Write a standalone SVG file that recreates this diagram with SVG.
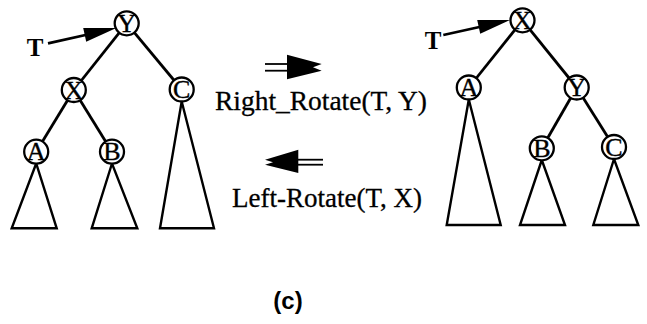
<svg xmlns="http://www.w3.org/2000/svg" width="647" height="324" viewBox="0 0 647 324">
<style>
.n{fill:#fff;stroke:#000;stroke-width:2.3}
.lt{font-family:"Liberation Serif","Times New Roman",serif;font-size:26px;fill:#000;stroke:#000;stroke-width:0.4;text-anchor:middle}
.tri{fill:#fff;stroke:#000;stroke-width:2.4;stroke-linejoin:miter}
.e{stroke:#000;stroke-width:2.8;fill:none}
.tl{font-family:"Liberation Serif","Times New Roman",serif;font-size:25px;font-weight:bold;fill:#000;text-anchor:middle}
.op{font-family:"Liberation Serif","Times New Roman",serif;font-size:27px;fill:#000;stroke:#000;stroke-width:0.3}
.dl{stroke:#000;stroke-width:1.8}
</style>
<rect width="647" height="324" fill="#fff"/>
<g id="connectors">
  <line class="e" x1="126.7" y1="23.3" x2="73.8" y2="90"/>
  <line class="e" x1="126.7" y1="23.3" x2="181.7" y2="89.5"/>
  <line class="e" x1="73.8" y1="90" x2="36.2" y2="151.7"/>
  <line class="e" x1="73.8" y1="90" x2="112" y2="151.7"/>
  <line class="e" x1="522.5" y1="20.3" x2="468.8" y2="87.5"/>
  <line class="e" x1="522.5" y1="20.3" x2="576.7" y2="87.5"/>
  <line class="e" x1="576.7" y1="87.5" x2="541.8" y2="148.3"/>
  <line class="e" x1="576.7" y1="87.5" x2="614" y2="147"/>
  <line class="e" x1="48" y1="43.3" x2="90" y2="34"/>
  <polygon points="116.3,28 86.2,41.7 83.2,28.1" fill="#000"/>
  <line class="e" x1="443.3" y1="35" x2="484" y2="26"/>
  <polygon points="510,20 480.2,33.7 477.2,20.1" fill="#000"/>
</g>
<g id="subtrees">
  <polygon class="tri" points="36.2,163.5 11.7,228.3 56.7,228.3"/>
  <polygon class="tri" points="112,163.5 91.7,228.3 137.3,228.3"/>
  <polygon class="tri" points="181.7,101.5 160,228.3 214,228.3"/>
  <polygon class="tri" points="468.8,99.5 446.7,225 500.7,225"/>
  <polygon class="tri" points="541.8,160 520,225 565,225"/>
  <polygon class="tri" points="614,159 593.3,225 638.3,225"/>
</g>
<g id="L-Y"><circle class="n" cx="126.7" cy="23.3" r="12"/><text class="lt" x="126.7" y="31.9">Y</text></g>
<g id="L-X"><circle class="n" cx="73.8" cy="90" r="12"/><text class="lt" x="73.8" y="98.6">X</text></g>
<g id="L-C"><circle class="n" cx="181.7" cy="89.5" r="12"/><text class="lt" x="181.7" y="98.1">C</text></g>
<g id="L-A"><circle class="n" cx="36.2" cy="151.7" r="12"/><text class="lt" x="36.2" y="160.3">A</text></g>
<g id="L-B"><circle class="n" cx="112" cy="151.7" r="12"/><text class="lt" x="112" y="160.3">B</text></g>
<g id="R-X"><circle class="n" cx="522.5" cy="20.3" r="12"/><text class="lt" x="522.5" y="28.9">X</text></g>
<g id="R-A"><circle class="n" cx="468.8" cy="87.5" r="12"/><text class="lt" x="468.8" y="96.1">A</text></g>
<g id="R-Y"><circle class="n" cx="576.7" cy="87.5" r="12"/><text class="lt" x="576.7" y="96.1">Y</text></g>
<g id="R-B"><circle class="n" cx="541.8" cy="148.3" r="12"/><text class="lt" x="541.8" y="156.9">B</text></g>
<g id="R-C"><circle class="n" cx="614" cy="147" r="12"/><text class="lt" x="614" y="155.6">C</text></g>
<g id="T-left"><text class="tl" x="35" y="55.5">T</text></g>
<g id="T-right"><text class="tl" x="433" y="48.5">T</text></g>
<g id="right-rotate">
  <line class="dl" x1="265" y1="64" x2="290" y2="64"/>
  <line class="dl" x1="265" y1="70.7" x2="290" y2="70.7"/>
  <polygon points="287,54.7 321.7,64 313,67.3 321.7,70.7 287,79.3" fill="#000"/>
  <text class="op" x="215" y="110" textLength="212" lengthAdjust="spacingAndGlyphs">Right_Rotate(T, Y)</text>
</g>
<g id="left-rotate">
  <line class="dl" x1="296" y1="159.7" x2="323" y2="159.7"/>
  <line class="dl" x1="296" y1="164.7" x2="323" y2="164.7"/>
  <polygon points="298.3,149.7 265,159.7 273,162.2 265,164.7 298.3,173" fill="#000"/>
  <text class="op" x="232" y="206.7" textLength="190" lengthAdjust="spacingAndGlyphs">Left-Rotate(T, X)</text>
</g>
<text x="288" y="309" font-family="'Liberation Sans',Arial,sans-serif" font-size="24" font-weight="bold" text-anchor="middle">(c)</text>
</svg>
